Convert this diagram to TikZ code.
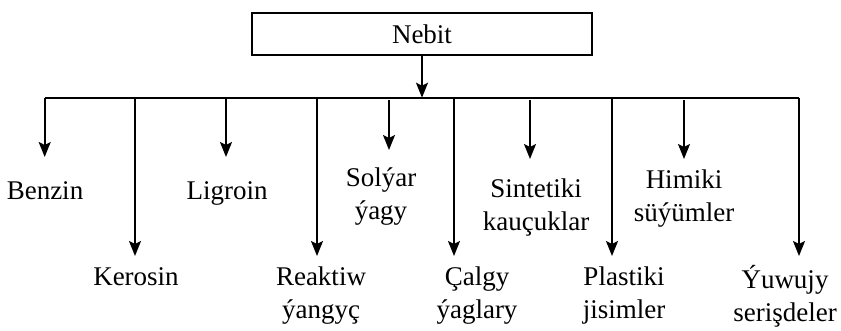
\documentclass[tikz,border=0pt]{standalone}
\usepackage{fontspec}
\setmainfont{Liberation Serif}
\usetikzlibrary{arrows.meta}
\begin{document}
\begin{tikzpicture}[x=1pt,y=-1pt,
  line width=1.8pt,
  arr/.style={-{Stealth[length=15pt,width=12pt,inset=3pt]}},
  lbl/.style={font=\fontsize{27}{33}\selectfont, align=center, inner sep=0pt},
  box/.style={draw, rectangle, minimum width=340pt, minimum height=42pt, inner sep=0pt, font=\fontsize{27}{33}\selectfont}]
\useasboundingbox (0,0) rectangle (841,330);
\node[box] (nebit) at (422,34) {Nebit};
\coordinate (bl) at (44.7,97.7);
\coordinate (br) at (799,97.7);
\coordinate (bm) at (422,97.7);
\draw[arr] (nebit.south -| bm) -- (bm);
\draw (bl) -- (br);
% short arrows
\coordinate (t1) at (44.7,157);
\coordinate (t3) at (226,157);
\coordinate (s5) at (389,100);
\coordinate (t5) at (389,150);
\coordinate (s7) at (530,100);
\coordinate (t7) at (530,159);
\coordinate (s9) at (684,100);
\coordinate (t9) at (684,159);
\draw[arr] (bl) -- (t1);
\draw[arr] (bl -| t3) -- (t3);
\draw[arr] (s5) -- (t5);
\draw[arr] (s7) -- (t7);
\draw[arr] (s9) -- (t9);
% long arrows
\coordinate (t2) at (135,256);
\coordinate (t4) at (317,256);
\coordinate (t6) at (454,256);
\coordinate (t8) at (612,256);
\coordinate (t10) at (799,256);
\draw[arr] (bl -| t2) -- (t2);
\draw[arr] (bl -| t4) -- (t4);
\draw[arr] (bl -| t6) -- (t6);
\draw[arr] (bl -| t8) -- (t8);
\draw[arr] (br) -- (t10);
% labels
\node[lbl] (benzin) at (45,191) {Benzin};
\node[lbl] (ligroin) at (227,193) {Ligroin};
\node[lbl] (solyar) at (381,197) {Solýar\\ ýagy};
\node[lbl] (sintetiki) at (536,208) {Sintetiki\\ kauçuklar};
\node[lbl] (himiki) at (684,199) {Himiki\\ süýümler};
\node[lbl] (kerosin) at (136,277) {Kerosin};
\node[lbl] (reaktiw) at (321,296) {Reaktiw\\ ýangyç};
\node[lbl] (calgy) at (477,296) {Çalgy\\ ýaglary};
\node[lbl] (plastiki) at (624,296) {Plastiki\\ jisimler};
\node[lbl] (yuwujy) at (785,296) {Ýuwujy\\ serişdeler};
\end{tikzpicture}
\end{document}
